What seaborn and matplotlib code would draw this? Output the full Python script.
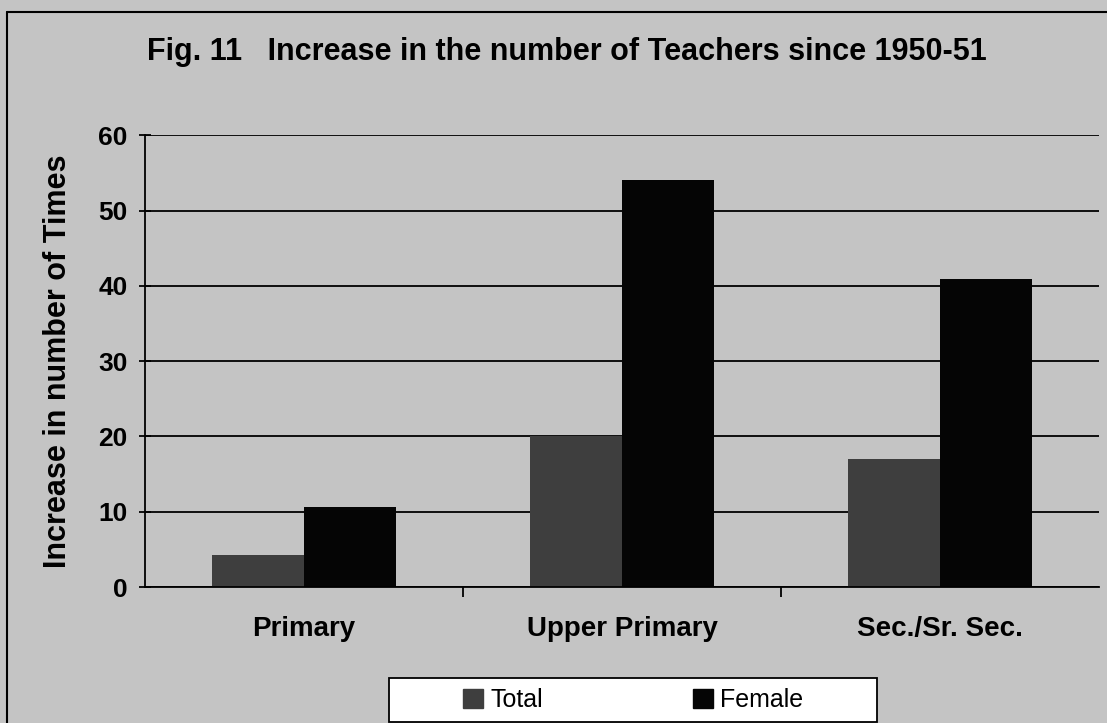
import pandas as pd
import matplotlib
matplotlib.use("Agg")
import matplotlib.pyplot as plt
import seaborn as sns
from matplotlib.lines import Line2D
from matplotlib.patches import Rectangle

# === Data ===
levels = ["Primary", "Upper Primary", "Sec./Sr. Sec."]
total = [4.3, 20.0, 17.0]
female = [10.6, 54.0, 40.9]
series = ["Total", "Female"]

df = pd.DataFrame({
    "level": levels * 2,
    "series": ["Total"] * 3 + ["Female"] * 3,
    "value": total + female,
})

# === Style ===
sns.set_theme(style="white")
plt.rcParams["font.family"] = ["Liberation Sans", "DejaVu Sans"]
for key in ["text.color", "axes.labelcolor", "xtick.color", "ytick.color"]:
    plt.rcParams[key] = "black"
bg = "#c4c4c4"
colors = {"Total": "#3e3e3e", "Female": "#050505"}

fig = plt.figure(figsize=(11.07, 7.23), dpi=100, facecolor=bg)
ax = fig.add_axes([0.131, 0.188, 0.862, 0.625], facecolor=bg)

sns.barplot(data=df, x="level", y="value", hue="series", hue_order=series,
            palette=colors, width=0.58, saturation=1, linewidth=0,
            ax=ax, legend=False)

ax.set_ylim(0, 60)
ax.set_yticks(range(0, 61, 10))
ax.yaxis.grid(True, color="black", linewidth=1.3)
ax.set_axisbelow(True)
ax.set_xlim(-0.5, 2.5)
for side in ["top", "right"]:
    ax.spines[side].set_visible(False)
for side in ["left", "bottom"]:
    ax.spines[side].set_color("black")
    ax.spines[side].set_linewidth(1.3)

ax.set_xlabel("")
ax.set_ylabel("Increase in number of Times", fontsize=22, fontweight="bold", labelpad=18)
ax.tick_params(axis="y", labelsize=19, left=True, length=9, width=1.3,
               direction="inout", pad=8)
ax.tick_params(axis="x", labelsize=20, bottom=False, pad=15)
for lbl in ax.get_yticklabels() + ax.get_xticklabels():
    lbl.set_fontweight("bold")
# category separator ticks
ax.set_xticks([0.5, 1.5], minor=True)
ax.tick_params(axis="x", which="minor", bottom=True, length=7, width=1.3)

fig.text(0.512, 0.928, "Fig. 11   Increase in the number of Teachers since 1950-51",
         ha="center", va="center", fontsize=22, fontweight="bold")

# legend box (white, framed) and entries
fig.add_artist(Rectangle((0.351, 0.0015), 0.441, 0.0605, transform=fig.transFigure,
                         facecolor="white", edgecolor="black", linewidth=1.3))
handles = [plt.Rectangle((0, 0), 1, 1, color=colors[s]) for s in series]
leg = fig.legend(handles, series, loc="center", bbox_to_anchor=(0.572, 0.032),
                 ncol=2, fontsize=18, frameon=False,
                 handlelength=0.8, handleheight=0.8, handletextpad=0.3,
                 columnspacing=6.0)

# scanned page border
fig.add_artist(Line2D([0.006, 1], [0.984, 0.984], color="black", linewidth=1.5))
fig.add_artist(Line2D([0.006, 0.006], [0, 0.984], color="black", linewidth=1.5))

fig.savefig("out.png", dpi=100, facecolor=bg)
